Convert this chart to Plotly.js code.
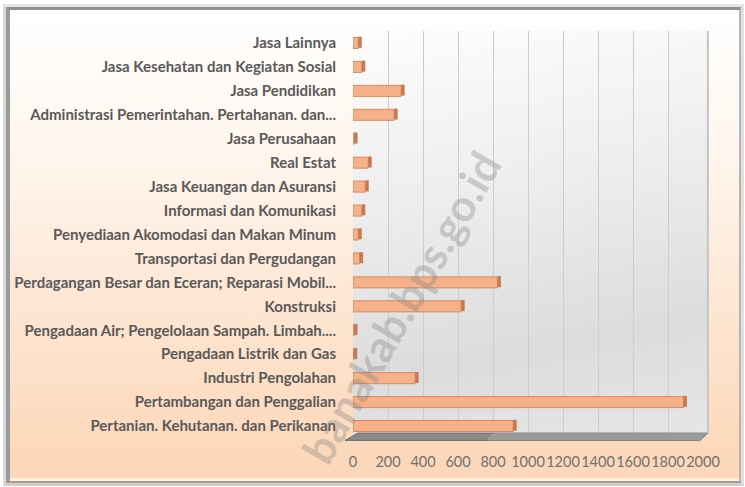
<!DOCTYPE html>
<html>
<head>
<meta charset="utf-8">
<script src="https://cdn.plot.ly/plotly-3.0.1.min.js"></script>
<style>
  html, body { margin: 0; padding: 0; background: #ffffff; }
  #wrap { position: relative; width: 745px; height: 487px; overflow: hidden; background: #ffffff; }
  #frame {
    position: absolute; left: 3px; top: 4px; width: 735px; height: 476px;
    border-top: 3px solid #e6e6e6; border-left: 3px solid #d9d9d9;
    border-right: 3px solid #e0e0e0; border-bottom: 3px solid #cfcfcf;
  }
  #inner {
    position: absolute; left: 0; top: 0; right: 0; bottom: 0;
    border-top: 3px solid #8f8f8f; border-left: 4px solid #9a9a9a;
    border-right: 2px solid #b5b5b5; border-bottom: 2px solid #b09a8a;
    background: linear-gradient(180deg, #ffffff 0%, #fff6ee 30%, #fde3cd 70%, #fcd6b7 100%);
    box-shadow: inset 0 -3px 0 #fff2e4;
  }
  #wall {
    position: absolute; left: 353px; top: 30px; width: 355px; height: 405px;
    background: linear-gradient(170deg, #fdfdfd 0%, #ededed 40%, #dcdcdc 75%, #e6e6e6 100%);
  }
  #chart { position: absolute; left: 0; top: 0; width: 745px; height: 487px; }
</style>
</head>
<body>
<div id="wrap">
  <div id="frame"><div id="inner"></div></div>
  <div id="wall"></div>
  <div id="chart"></div>
</div>
<script>
// Categories listed from bottom to top as drawn
const categories = [
  "Pertanian. Kehutanan. dan Perikanan",
  "Pertambangan dan Penggalian",
  "Industri Pengolahan",
  "Pengadaan Listrik dan Gas",
  "Pengadaan Air; Pengelolaan Sampah. Limbah....",
  "Konstruksi",
  "Perdagangan Besar dan Eceran; Reparasi Mobil...",
  "Transportasi dan Pergudangan",
  "Penyediaan Akomodasi dan Makan Minum",
  "Informasi dan Komunikasi",
  "Jasa Keuangan dan Asuransi",
  "Real Estat",
  "Jasa Perusahaan",
  "Administrasi Pemerintahan. Pertahanan. dan...",
  "Jasa Pendidikan",
  "Jasa Kesehatan dan Kegiatan Sosial",
  "Jasa Lainnya"
];
const values = [915, 1888, 355, 4, 6, 618, 825, 38, 30, 50, 70, 87, 6, 235, 275, 50, 30];
const tickValues = [0, 200, 400, 600, 800, 1000, 1200, 1400, 1600, 1800, 2000];
const watermark = "banakab.bps.go.id";

const capDepth = values.map(() => 20);

const traces = [
  {
    type: "bar", orientation: "h",
    y: categories, x: values,
    width: 0.46,
    marker: { color: "#f6b189", line: { color: "#d9895b", width: 1 } },
    hoverinfo: "skip"
  },
  {
    type: "bar", orientation: "h",
    y: categories, x: capDepth, base: values,
    width: 0.46, offset: -0.2,
    marker: { color: "#c27b52", line: { width: 0 } },
    hoverinfo: "skip"
  }
];

const layout = {
  width: 745, height: 487,
  margin: { l: 353, r: 42, t: 31, b: 49 },
  paper_bgcolor: "rgba(0,0,0,0)",
  plot_bgcolor: "rgba(0,0,0,0)",
  showlegend: false,
  barmode: "overlay",
  font: { family: "Lato, 'Open Sans', sans-serif", color: "#595959" },
  xaxis: {
    range: [0, 2000],
    tickvals: tickValues,
    ticktext: tickValues.map(String),
    tickangle: 0,
    showgrid: true, gridcolor: "#cccccc", gridwidth: 1,
    zeroline: false, showline: false,
    ticks: "", ticklabelstandoff: 13,
    tickfont: { size: 14.5, color: "#707070", family: "Lato, sans-serif" },
    fixedrange: true
  },
  yaxis: {
    type: "category",
    categoryorder: "array", categoryarray: categories,
    showgrid: false, zeroline: false, showline: false,
    ticks: "", ticklabelstandoff: 16,
    tickfont: { size: 15, color: "#595959", family: "Lato, sans-serif", weight: "bold" },
    fixedrange: true
  },
  shapes: [
    { type: "path", xref: "paper", yref: "paper",
      path: "M 0.014 0.012 L 1.014 0.012 L 0.991 -0.006 L -0.023 -0.006 Z",
      fillcolor: "#8a8a8a", line: { color: "#6f6f6f", width: 1 }, layer: "above" },
    { type: "path", xref: "paper", yref: "paper",
      path: "M 0.4 0.012 L 1.014 0.012 L 0.991 -0.006 L 0.38 -0.006 Z",
      fillcolor: "#a5a5a5", line: { width: 0 }, layer: "above", opacity: 0.6 },
    { type: "line", xref: "paper", yref: "paper", x0: 1.014, x1: 1.014, y0: 0.012, y1: 1.0,
      line: { color: "#c4c4c4", width: 2 } }
  ],
  annotations: [
    { text: watermark, xref: "paper", yref: "paper", x: -0.185, y: -0.09,
      showarrow: false, textangle: -60,
      font: { size: 44, color: "rgba(130,130,130,0.35)", family: "Lato, sans-serif", weight: "bold" } }
  ]
};

Plotly.newPlot("chart", traces, layout, { displayModeBar: false, staticPlot: true });
</script>
</body>
</html>
